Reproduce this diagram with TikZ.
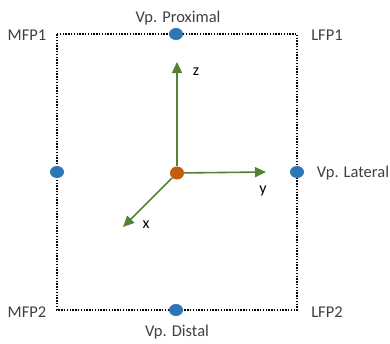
\documentclass[tikz,border=0pt]{standalone}
\usepackage{fontspec}
\setmainfont{Carlito}
\usetikzlibrary{arrows.meta,shapes.geometric}
\definecolor{vpblue}{HTML}{2E75B6}
\definecolor{orig}{HTML}{C55A11}
\definecolor{axgreen}{HTML}{548235}
\definecolor{txt}{HTML}{404040}
\tikzset{
  vp/.style={ellipse,fill=vpblue,minimum width=14pt,minimum height=12pt,inner sep=0pt},
  orgdot/.style={ellipse,fill=orig,minimum width=14pt,minimum height=13pt,inner sep=0pt},
  frame/.style={line width=1.3pt,dash pattern=on 1.4pt off 1.4pt},
  axis/.style={draw=axgreen,line width=1.6pt,-{Triangle[length=11pt,width=10pt]}},
  lbl/.style={font=\fontsize{16.5}{18}\selectfont,text=txt,inner sep=0pt},
  axl/.style={font=\fontsize{16}{18}\selectfont,text=black,inner sep=0pt}
}
\begin{document}
\begin{tikzpicture}[x=1pt,y=-1pt]
\useasboundingbox (0,0) rectangle (390,343);
\coordinate (tl) at (57,34);
\coordinate (tr) at (297,34);
\coordinate (br) at (297,310);
\coordinate (bl) at (57,310);
\draw[frame] (tl) -- (tr) -- (br) -- (bl) -- cycle;
\node[vp] (prox) at (176,34) {};
\node[vp] (dist) at (176,310) {};
\node[vp] (med) at (57,172) {};
\node[vp] (lat) at (297,172) {};
\node[orgdot] (o) at (177,173) {};
\coordinate (zt) at (177,62);
\coordinate (yt) at (266,172);
\coordinate (xt) at (123,227);
\draw[axis] (o) -- (zt);
\draw[axis] (o) -- (yt);
\draw[axis] (o) -- (xt);
\node[axl] (zl) at (196,72) {z};
\node[axl] (yl) at (263,191) {y};
\node[axl] (xl) at (146,225) {x};
\node[lbl] (lprox) at (178,18) {Vp. Proximal};
\node[lbl] (ldist) at (177,332) {Vp. Distal};
\node[lbl] (llat) at (353,173) {Vp. Lateral};
\node[lbl] (mfp1) at (27,35) {MFP1};
\node[lbl] (lfp1) at (327,35) {LFP1};
\node[lbl] (mfp2) at (27,312) {MFP2};
\node[lbl] (lfp2) at (327,312) {LFP2};
\end{tikzpicture}
\end{document}
